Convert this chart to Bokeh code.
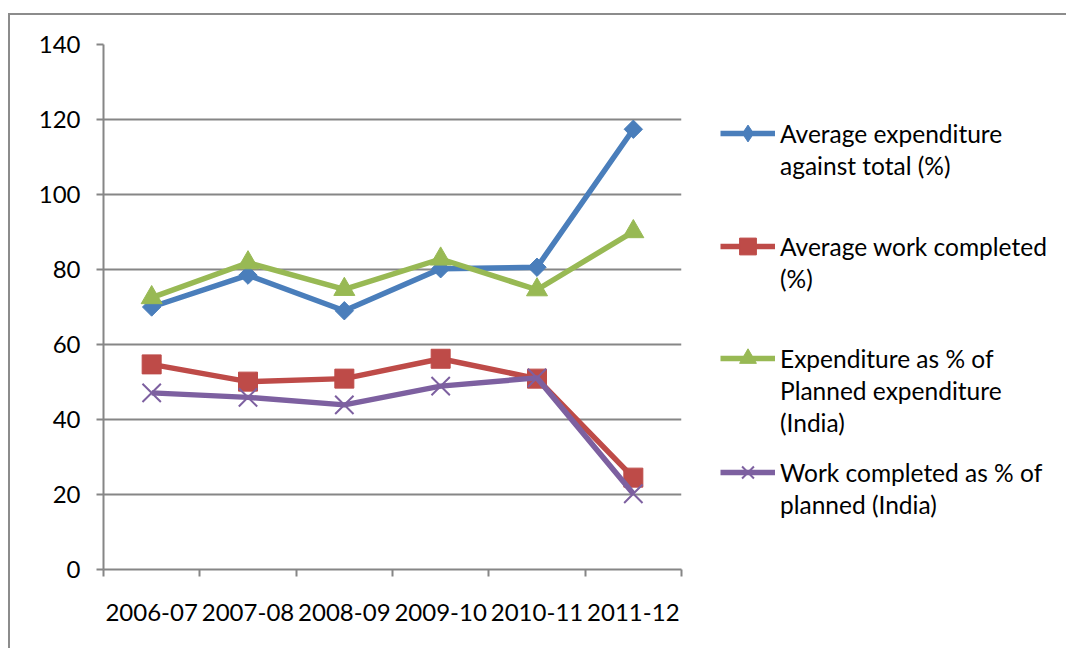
import numpy as np
from bokeh.plotting import figure
from bokeh.layouts import row
from bokeh.models import ColumnDataSource, FixedTicker, Legend, LegendItem
from bokeh.embed import file_html
from bokeh.resources import INLINE

years = ["2006-07", "2007-08", "2008-09", "2009-10", "2010-11", "2011-12"]
avg_expenditure = [70.0, 78.5, 69.0, 80.2, 80.6, 117.4]
avg_work_completed = [54.7, 50.1, 50.9, 56.2, 50.9, 24.5]
expenditure_vs_planned = [72.5, 81.8, 74.7, 82.8, 74.6, 90.1]
work_vs_planned = [47.1, 45.9, 43.9, 48.9, 51.1, 20.2]
y_ticks = [0, 20, 40, 60, 80, 100, 120, 140]

label_lines = [
    ["Average expenditure", "against total (%)"],
    ["Average work completed", "(%)"],
    ["Expenditure as % of", "Planned expenditure", "(India)"],
    ["Work completed as % of", "planned (India)"],
]

FONT = "Lato"
GRID = "#868686"
BLUE, RED, GREEN, PURPLE = "#4A7EBB", "#BE4B48", "#98B954", "#7D60A0"
LW = 5.5

x_pos = np.arange(len(years)) + 0.5
src = ColumnDataSource(dict(
    x=x_pos,
    a=avg_expenditure,
    b=avg_work_completed,
    c=expenditure_vs_planned,
    d=work_vs_planned,
))

p = figure(
    width=690, height=633,
    x_range=(0, len(years)), y_range=(0, 140),
    output_backend="svg", toolbar_location=None,
    min_border_left=93, min_border_right=19,
    min_border_top=29, min_border_bottom=79,
)
p.outline_line_color = None
p.border_fill_color = "white"

# y axis and horizontal gridlines
p.yaxis.ticker = FixedTicker(ticks=y_ticks)
p.yaxis.axis_line_color = GRID
p.yaxis.axis_line_width = 2
p.yaxis.major_tick_line_color = GRID
p.yaxis.major_tick_line_width = 2
p.yaxis.major_tick_out = 7
p.yaxis.major_tick_in = 0
p.yaxis.minor_tick_line_color = None
p.yaxis.major_label_text_font = FONT
p.yaxis.major_label_text_font_size = "24px"
p.yaxis.major_label_text_color = "black"
p.yaxis.major_label_standoff = 16
p.ygrid.ticker = FixedTicker(ticks=y_ticks[1:])
p.ygrid.grid_line_color = GRID
p.ygrid.grid_line_width = 2
p.xgrid.grid_line_color = None

# x axis: labels centred in each category, tick marks on category boundaries
p.xaxis.ticker = FixedTicker(ticks=list(x_pos), minor_ticks=list(range(len(years) + 1)))
p.xaxis.major_label_overrides = {float(x): y for x, y in zip(x_pos, years)}
p.xaxis.axis_line_color = GRID
p.xaxis.axis_line_width = 2
p.xaxis.major_tick_line_color = None
p.xaxis.major_tick_out = 0
p.xaxis.major_tick_in = 0
p.xaxis.minor_tick_line_color = GRID
p.xaxis.minor_tick_line_width = 2
p.xaxis.minor_tick_out = 7
p.xaxis.minor_tick_in = 0
p.xaxis.major_label_text_font = FONT
p.xaxis.major_label_text_font_size = "24px"
p.xaxis.major_label_text_color = "black"
p.xaxis.major_label_standoff = 27

series = [
    ("a", BLUE, dict(marker="square", angle=np.pi / 4, size=13, fill_color=BLUE, line_color=BLUE)),
    ("b", RED, dict(marker="square", size=19, fill_color=RED, line_color=RED)),
    ("c", GREEN, dict(marker="triangle", size=21, fill_color=GREEN, line_color=GREEN)),
    ("d", PURPLE, dict(marker="x", size=26, line_color=PURPLE, line_width=2)),
]
for col, color, mk in series:
    p.line("x", col, source=src, line_color=color, line_width=LW)
    p.scatter("x", col, source=src, **mk)

# legend swatch markers (the legend sizes them from its glyph box)
swatch_markers = [
    dict(marker="diamond", fill_color=BLUE, line_color=BLUE),
    dict(marker="square", fill_color=RED, line_color=RED),
    dict(marker="triangle", fill_color=GREEN, line_color=GREEN),
    dict(marker="x", line_color=PURPLE, line_width=2),
]

# legend panel to the right of the plot area
leg = figure(
    width=366, height=633, x_range=(0, 1), y_range=(0, 1),
    output_backend="svg", toolbar_location=None,
    min_border=0, outline_line_color=None,
)
leg.axis.visible = False
leg.grid.visible = False
# swatch renderers: a single missing point, so only the legend shows them
swatch = ColumnDataSource(dict(x=np.array([np.nan]), y=np.array([np.nan])))

common = dict(padding=0, margin=0, spacing=0, border_line_color=None,
              background_fill_alpha=0, inactive_fill_alpha=0)
glyph_y = [415, 302, 190, 76]
text_y = [388, 275, 131, 49]
for (col, color, _), smk, lines, gy, ty in zip(series, swatch_markers, label_lines, glyph_y, text_y):
    lr = leg.line("x", "y", source=swatch, line_color=color, line_width=LW)
    mr = leg.scatter("x", "y", source=swatch, **smk)
    leg.add_layout(Legend(
        items=[LegendItem(label=" ", renderers=[lr, mr])],
        location=(20, gy), glyph_width=55, glyph_height=42,
        label_standoff=0, label_text_font_size="1px", **common,
    ))
    leg.add_layout(Legend(
        items=[LegendItem(label=t, renderers=[]) for t in lines],
        location=(80, ty), glyph_width=0, glyph_height=32, label_height=32,
        label_standoff=0, label_text_font=FONT, label_text_font_size="24.5px",
        label_text_color="black", **common,
    ))

layout = row(
    p, leg, spacing=0,
    margin=(13, 0, 0, 8),
    styles={"border-top": "2px solid #8c8c8c", "border-left": "2px solid #8c8c8c"},
)

open("out.html", "w").write(file_html(layout, INLINE))
